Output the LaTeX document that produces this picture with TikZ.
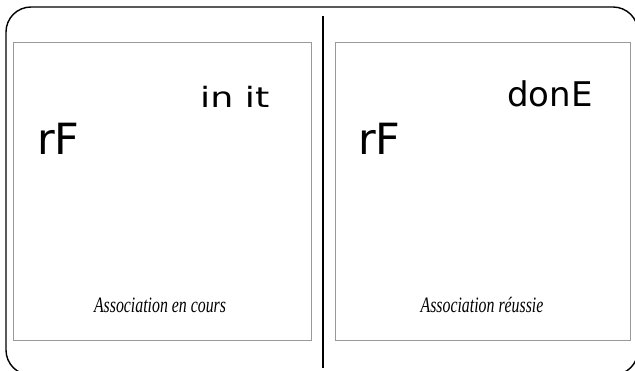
\documentclass[tikz,border=0pt]{standalone}
\usepackage{fontspec}
\newfontfamily\segfont{DejaVu Sans}
\newfontfamily\capfont{Liberation Serif}
\usepackage{graphicx}
\tikzset{
  frame/.style={line width=1.4pt,black},
  panel/.style={line width=0.8pt,black!40},
  seg/.style={inner sep=0pt,font=\segfont},
  caption/.style={inner sep=0pt,font=\capfont\itshape\fontsize{22}{24}\selectfont}
}
\begin{document}
\begin{tikzpicture}[x=1pt,y=-1pt]
    % Define convenient lengths for the two panels (adjust as desired)
    \def\pw{298}
    \def\ph{298}

    \useasboundingbox (0,0) rectangle (635,371);
    \clip (0,0) rectangle (635,371);

    % 1) Outer frame and the divider
    \draw[frame,rounded corners=25pt] (6,7) rectangle (638,375);
    \draw[frame] (323,16) -- (323,368);

    % 2) The two display panels
    \draw[panel] (13,42) rectangle ++(\pw,\ph);
    \draw[panel] (335,42) rectangle ++(295,\ph);

    % 3) Left display: association in progress
    \node[seg,anchor=base west,font=\segfont\fontsize{43}{43}\selectfont]
      (rfL) at (37,155) {rF};
    \node[seg,anchor=base west,font=\segfont\fontsize{28}{28}\selectfont]
      (initL) at (200,108) {\scalebox{1.3}[1]{in it}};
    \node[caption,anchor=base] (capL) at (160,313)
      {\scalebox{0.72}[1]{Association en cours}};

    % 4) Right display: association done
    \node[seg,anchor=base west,font=\segfont\fontsize{43}{43}\selectfont]
      (rfR) at (358,155) {rF};
    \node[seg,anchor=base west,font=\segfont\fontsize{34}{34}\selectfont]
      (doneR) at (507,107) {donE};
    \node[caption,anchor=base] (capR) at (482,313)
      {\scalebox{0.72}[1]{Association réussie}};
\end{tikzpicture}
\end{document}
